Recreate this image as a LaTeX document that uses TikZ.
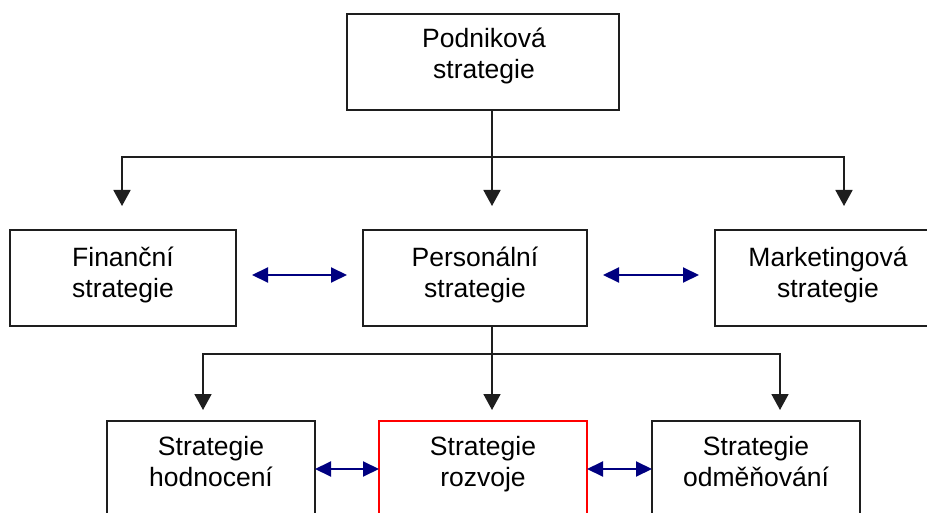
\documentclass[tikz,border=0pt]{standalone}
\usepackage{fontspec}
\setmainfont{Liberation Sans}
\usetikzlibrary{arrows.meta}
\definecolor{navy}{RGB}{0,0,128}
\definecolor{boxline}{RGB}{30,30,30}
\tikzset{
  box/.style={draw=boxline, line width=1.8pt, fill=white, minimum width=#1,
    minimum height=96pt, anchor=north west, inner sep=0pt, outer sep=0pt},
  lbl/.style={anchor=base, inner sep=0pt, font=\fontsize{26.5}{31}\selectfont},
  plain/.style={draw=boxline, line width=1.8pt},
  flow/.style={plain, -{Triangle[width=17pt,length=16pt]}},
  link/.style={draw=navy, line width=2pt,
    {Triangle[width=15pt,length=16pt]}-{Triangle[width=15pt,length=16pt]}}
}
\newcommand{\twolines}[2]{\begin{tabular}[t]{@{}c@{}}#1\\#2\end{tabular}}
\begin{document}
\begin{tikzpicture}[x=1pt,y=-1pt]
  \useasboundingbox (0,0) rectangle (927,513);
  \clip (0,0) rectangle (927,513);
  \fill[white] (0,0) rectangle (927,513);

  % boxes
  \node[box=272pt] (top) at (347,14) {};
  \node[box=226pt] (fin) at (10,230) {};
  \node[box=224pt] (per) at (363,230) {};
  \node[box=226pt] (mar) at (715,230) {};
  \node[box=208pt] (hod) at (107,421) {};
  \node[box=208pt, draw=red, line width=1.4pt] (roz) at (379,421) {};
  \node[box=208pt] (odm) at (652,421) {};

  % labels
  \node[lbl] (top-t) at (484,48)  {\twolines{Podniková}{strategie}};
  \node[lbl] (fin-t) at (123,267) {\twolines{Finanční}{strategie}};
  \node[lbl] (per-t) at (475,267) {\twolines{Personální}{strategie}};
  \node[lbl] (mar-t) at (828,267) {\twolines{Marketingová}{strategie}};
  \node[lbl] (hod-t) at (211,455) {\twolines{Strategie}{hodnocení}};
  \node[lbl] (roz-t) at (483,455) {\twolines{Strategie}{rozvoje}};
  \node[lbl] (odm-t) at (756,455) {\twolines{Strategie}{odměňování}};

  % first level of the tree
  \coordinate (j1) at (492,157);
  \coordinate (l1) at (122,157);
  \coordinate (r1) at (844,157);
  \draw[flow, shorten >=24pt] (top.south -| j1) -- (j1) -| (fin.north -| l1);
  \draw[flow, shorten >=24pt] (j1) -- (per.north -| j1);
  \draw[flow, shorten >=24pt] (j1) -| (mar.north -| r1);

  % second level of the tree
  \coordinate (j2) at (492,354);
  \coordinate (l2) at (203,354);
  \coordinate (r2) at (780,354);
  \draw[flow, shorten >=11pt] (per.south -| j2) -- (j2) -| (hod.north -| l2);
  \draw[flow, shorten >=11pt] (j2) -- (roz.north -| j2);
  \draw[flow, shorten >=11pt] (j2) -| (odm.north -| r2);

  % links between sibling strategies
  \draw[link, shorten >=16pt, shorten <=16pt]
    ([yshift=3pt]fin.east) -- ([yshift=3pt]per.west);
  \draw[link, shorten >=16pt, shorten <=16pt]
    ([yshift=3pt]per.east) -- ([yshift=3pt]mar.west);
  \draw[link] (hod.east) -- (roz.west);
  \draw[link] (roz.east) -- (odm.west);
\end{tikzpicture}
\end{document}
